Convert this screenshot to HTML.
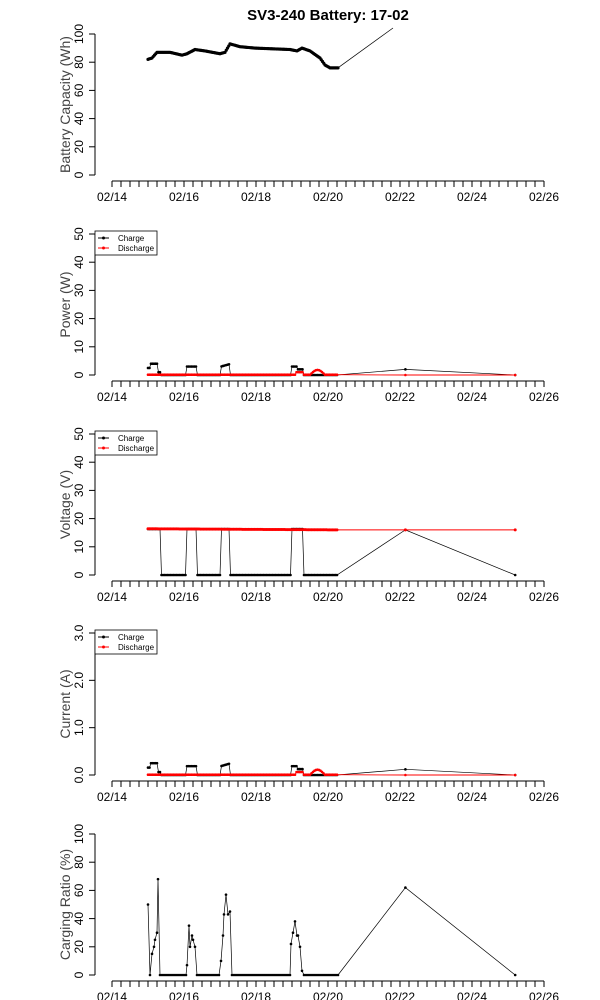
<!DOCTYPE html>
<html><head><meta charset="utf-8"><style>
body{margin:0;background:#fff;}
svg{display:block;font-family:"Liberation Sans",sans-serif;}
</style></head><body>
<svg id="s" width="600" height="1000" xmlns="http://www.w3.org/2000/svg">
<text x="328" y="20" text-anchor="middle" font-size="15" font-weight="bold">SV3-240 Battery: 17-02</text>
</svg>
<script>
const s=document.getElementById('s');
const NS='http://www.w3.org/2000/svg';
function el(t,a,txt){const e=document.createElementNS(NS,t);for(const k in a)e.setAttribute(k,a[k]);if(txt!==undefined)e.textContent=txt;s.appendChild(e);return e;}
const X=d=>112+36*(d-14);
const panels=[
 {y0:175,y1:34,ticks:[0,20,40,60,80,100],max:100,lab:'Battery Capacity (Wh)',fmt:v=>v},
 {y0:375,y1:234,ticks:[0,10,20,30,40,50],max:50,lab:'Power (W)',fmt:v=>v,leg:1},
 {y0:575,y1:434,ticks:[0,10,20,30,40,50],max:50,lab:'Voltage (V)',fmt:v=>v,leg:1},
 {y0:775,y1:633,ticks:[0,1,2,3],max:3,lab:'Current (A)',fmt:v=>v.toFixed(1),leg:1},
 {y0:975,y1:834,ticks:[0,20,40,60,80,100],max:100,lab:'Carging Ratio (%)',fmt:v=>v}
];
panels.forEach(p=>{
 const ax=p.y0+6;
 el('line',{x1:X(14),x2:X(26),y1:ax,y2:ax,stroke:'#000'});
 for(let i=0;i<=48;i++){const x=X(14+i/4);el('line',{x1:x,x2:x,y1:ax,y2:ax+6,stroke:'#000'});}
 for(let d=14;d<=26;d+=2)el('text',{x:X(d),y:ax+20,'text-anchor':'middle','font-size':12},'02/'+d);
 el('line',{x1:95,x2:95,y1:p.y0,y2:p.y1,stroke:'#000'});
 p.ticks.forEach(v=>{const y=p.y0-(p.y0-p.y1)*v/p.max;el('line',{x1:89,x2:95,y1:y,y2:y,stroke:'#000'});
  el('text',{x:0,y:0,transform:`translate(83,${y}) rotate(-90)`,'text-anchor':'middle','font-size':12},p.fmt(v));});
 el('text',{x:0,y:0,transform:`translate(70,${(p.y0+p.y1)/2}) rotate(-90)`,'text-anchor':'middle','font-size':14,fill:'#444'},p.lab);
 if(p.leg){const ty=p.y1-3;el('rect',{x:95,y:ty,width:62,height:24,fill:'#fff',stroke:'#000','stroke-width':0.8});
  el('line',{x1:98,x2:109,y1:ty+7,y2:ty+7,stroke:'#000'});el('circle',{cx:103.5,cy:ty+7,r:1.5});
  el('text',{x:118,y:ty+10,'font-size':8},'Charge');
  el('line',{x1:98,x2:109,y1:ty+17,y2:ty+17,stroke:'red'});el('circle',{cx:103.5,cy:ty+17,r:1.5,fill:'red'});
  el('text',{x:118,y:ty+20,'font-size':8},'Discharge');}
});
function series(pts,col,r,w){
 el('polyline',{points:pts.map(p=>p.join(',')).join(' '),fill:'none',stroke:col,'stroke-width':w||0.7});
 pts.forEach(p=>el('circle',{cx:p[0],cy:p[1],r:r||1.4,fill:col}));
}
function interp(key,step){const out=[];for(let i=0;i<key.length-1;i++){const [a,b]=[key[i],key[i+1]];const n=Math.max(1,Math.round((b[0]-a[0])/step));for(let j=0;j<n;j++)out.push([a[0]+(b[0]-a[0])*j/n,a[1]+(b[1]-a[1])*j/n]);}out.push(key[key.length-1]);return out;}
const cap=[[148,82],[152,83],[157,87],[170,87],[182,85],[187,86],[195,89],[205,88],[220,86],[225,87],[230,93],[240,91],[255,90],[290,89],[297,88],[302,90],[310,88],[320,83],[325,78],[330,76],[338,76]];
const cy=v=>175-1.41*v;
let cp=interp(cap,1.2).map(p=>[p[0],cy(p[1])]);
el('line',{x1:338,y1:cy(76),x2:393,y2:28,stroke:'#000','stroke-width':0.7});
series(cp,'#000',1.6,1.5);
const blocks=[[148,161],[187,197],[221,230],[291,303]];
const inBlock=x=>blocks.some(b=>x>=b[0]&&x<=b[1]);
const xs=[];for(let x=148;x<=338;x+=1.5)xs.push(x);
function pw(x){if(!inBlock(x))return 0;if(x<161)return x<151?2.5:(x<158?4:1);if(x<198)return 3;if(x<231)return 3+0.1*(x-221);return x<297?3:2;}
function dis(x){if(x>295&&x<303)return 1;if(x>310&&x<325)return 1.8*Math.sin((x-310)/15*Math.PI);return 0.1;}
const P22=X(22.15),P25=X(25.2);
let py=v=>375-2.82*v;
series(xs.map(x=>[x,py(pw(x))]).concat([[P22,py(2)],[P25,py(0)]]),'#000',1.3);
series(xs.map(x=>[x,py(dis(x))]).concat([[P22,py(0)],[P25,py(0)]]),'red',1.3,0.9);
let vy=v=>575-2.82*v;
function vc(x){return inBlock(x)?16.3:0;}
let vpts=[];xs.forEach(x=>vpts.push([x,vy(vc(x))]));vpts.push([P22,vy(16)],[P25,vy(0)]);
series(vpts,'#000',1.3);
series(xs.map(x=>[x,vy(16.4-0.4*(x-148)/190)]).concat([[P22,vy(16)],[P25,vy(16)]]),'red',1.5,0.9);
let iy=v=>775-47.3*v;
series(xs.map(x=>[x,iy(pw(x)/16)]).concat([[P22,iy(0.12)],[P25,iy(0)]]),'#000',1.3);
series(xs.map(x=>[x,iy(dis(x)/16)]).concat([[P22,iy(0)],[P25,iy(0)]]),'red',1.3,0.9);
let ry=v=>975-1.41*v;
const rk=[[148,50],[150,0],[152,15],[154,20],[155,25],[157,30],[158,68],[160,0]];
for(let x=162;x<187;x+=2)rk.push([x,0]);
rk.push([187,7],[189,35],[190,20],[192,28],[193,25],[195,20],[197,0]);
for(let x=199;x<221;x+=2)rk.push([x,0]);
rk.push([221,10],[223,28],[224,43],[226,57],[228,43],[230,45],[232,0]);
for(let x=234;x<291;x+=2)rk.push([x,0]);
rk.push([291,22],[293,30],[295,38],[297,28],[298,28],[300,20],[302,3],[304,0]);
for(let x=306;x<=338;x+=2)rk.push([x,0]);
rk.push([P22,62],[P25,0]);
series(rk.map(p=>[p[0],ry(p[1])]),'#000',1.3);
</script>
</body></html>
